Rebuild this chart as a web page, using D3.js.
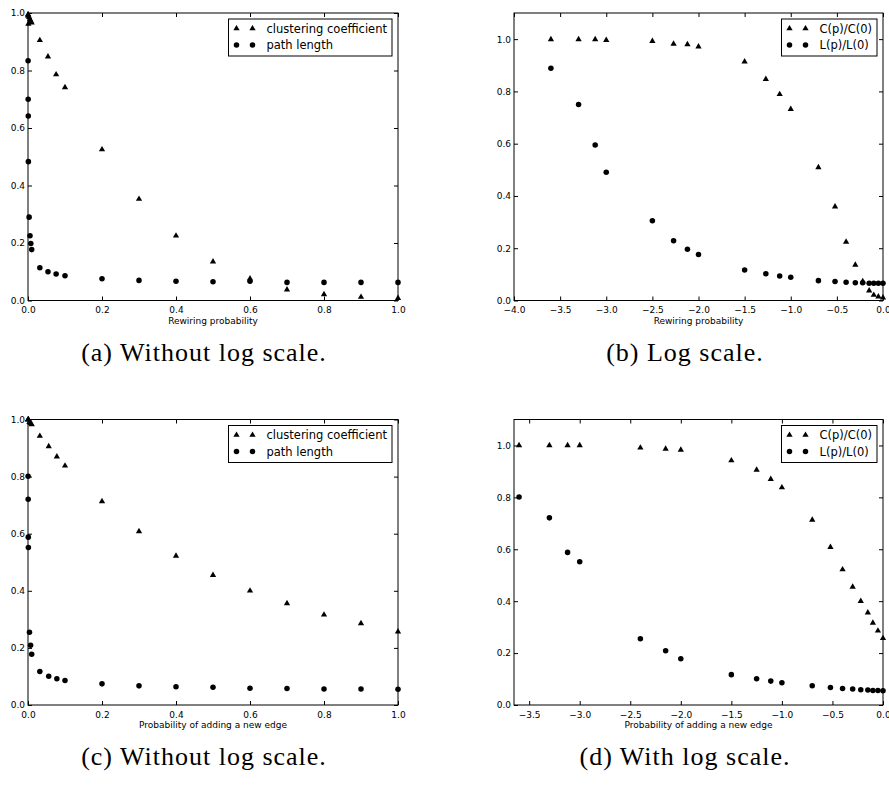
<!DOCTYPE html>
<html>
<head>
<meta charset="utf-8">
<script src="https://cdn.jsdelivr.net/npm/d3@7"></script>
<style>
  html, body { margin: 0; padding: 0; background: #fff; }
  svg { display: block; }
  .tick text { font-family: "DejaVu Sans", sans-serif; font-size: 9px; fill: #000; }
  .tick line { stroke: #000; stroke-width: 1; }
  .axis-label { font-family: "DejaVu Sans", sans-serif; font-size: 9px; fill: #000; }
  .legend text { font-family: "DejaVu Sans", sans-serif; font-size: 11.5px; fill: #000; }
  .caption { font-family: "Liberation Serif", serif; font-size: 26px; fill: #000; letter-spacing: 1px; }
</style>
</head>
<body>
<svg id="fig" width="889" height="790"></svg>
<script>
// Rewiring experiment: probabilities and their log10 values
const pRewire = [0.00025, 0.0005, 0.00075, 0.001, 0.003, 0.0054, 0.0076, 0.01,
  0.032, 0.054, 0.076, 0.1, 0.2, 0.3, 0.4, 0.5, 0.6, 0.7, 0.8, 0.9, 1.0];
const logPRewire = [-3.6, -3.3, -3.12, -3.0, -2.5, -2.27, -2.12, -2.0,
  -1.5, -1.27, -1.12, -1.0, -0.7, -0.52, -0.4, -0.3, -0.22, -0.15, -0.1, -0.05, 0.0];

// Rewiring, linear run
const clusterRewireLin = [0.995, 0.993, 0.99, 0.962, 0.985, 0.978, 0.972, 0.966,
  0.905, 0.848, 0.786, 0.741, 0.525, 0.353, 0.225, 0.135, 0.076, 0.038, 0.021, 0.012, 0.008];
const pathRewireLin = [0.834, 0.700, 0.642, 0.483, 0.290, 0.225, 0.198, 0.177,
  0.114, 0.100, 0.092, 0.086, 0.076, 0.070, 0.067, 0.065, 0.067, 0.063, 0.063, 0.063, 0.063];

// Rewiring, log run
const clusterRewireLog = [0.999, 0.999, 0.999, 0.996, 0.992, 0.982, 0.980, 0.971,
  0.914, 0.847, 0.789, 0.732, 0.509, 0.359, 0.224, 0.136, 0.073, 0.038, 0.021, 0.015, 0.011];
const pathRewireLog = [0.889, 0.750, 0.595, 0.491, 0.305, 0.229, 0.196, 0.176,
  0.117, 0.102, 0.094, 0.089, 0.076, 0.073, 0.070, 0.068, 0.068, 0.066, 0.066, 0.066, 0.066];

// Adding new edges
const pAddEdge = [0.00025, 0.0005, 0.00075, 0.001, 0.004, 0.007, 0.01,
  0.032, 0.056, 0.078, 0.1, 0.2, 0.3, 0.4, 0.5, 0.6, 0.7, 0.8, 0.9, 1.0];
const logPAddEdge = [-3.6, -3.3, -3.12, -3.0, -2.4, -2.15, -2.0,
  -1.5, -1.25, -1.11, -1.0, -0.7, -0.52, -0.4, -0.3, -0.22, -0.15, -0.1, -0.05, 0.0];
const clusterAddEdge = [1.0, 1.0, 1.0, 1.0, 0.991, 0.987, 0.983,
  0.942, 0.906, 0.870, 0.838, 0.713, 0.608, 0.522, 0.455, 0.400, 0.356, 0.316, 0.286, 0.257];
const pathAddEdge = [0.801, 0.721, 0.588, 0.552, 0.255, 0.209, 0.178,
  0.117, 0.101, 0.092, 0.086, 0.074, 0.067, 0.064, 0.062, 0.059, 0.058, 0.056, 0.056, 0.055];

// Tick values
const linXTicks = [0, 0.2, 0.4, 0.6, 0.8, 1.0];
const unitYTicks = [0, 0.2, 0.4, 0.6, 0.8, 1.0];
const logRewireTicks = [-4, -3.5, -3, -2.5, -2, -1.5, -1, -0.5, 0];
const logAddTicks = [-3.5, -3, -2.5, -2, -1.5, -1, -0.5, 0];

// Legend entries and captions
const legendLinear = ["clustering coefficient", "path length"];
const legendLog = ["C(p)/C(0)", "L(p)/L(0)"];
const captions = ["(a) Without log scale.", "(b) Log scale.", "(c) Without log scale.", "(d) With log scale."];
const xLabels = ["Rewiring probability", "Probability of adding a new edge"];

const svg = d3.select("#fig");
const fmt = d3.format(".1f");

const panels = [
  { box: [28, 13, 398, 300.5], xDom: [0, 1], yDom: [0, 1], xTicks: linXTicks,
    xs: pRewire, tri: clusterRewireLin, dot: pathRewireLin, legend: legendLinear,
    xLabel: xLabels[0], caption: captions[0], capX: 204 },
  { box: [514, 13, 883, 300.5], xDom: [-4, 0], yDom: [0, 1.1], xTicks: logRewireTicks,
    xs: logPRewire, tri: clusterRewireLog, dot: pathRewireLog, legend: legendLog,
    xLabel: xLabels[0], caption: captions[1], capX: 685 },
  { box: [28, 419.5, 398, 705], xDom: [0, 1], yDom: [0, 1], xTicks: linXTicks,
    xs: pAddEdge, tri: clusterAddEdge, dot: pathAddEdge, legend: legendLinear,
    xLabel: xLabels[1], caption: captions[2], capX: 204 },
  { box: [514, 419.5, 883, 705], xDom: [-3.65, 0], yDom: [0, 1.1], xTicks: logAddTicks,
    xs: logPAddEdge, tri: clusterAddEdge, dot: pathAddEdge, legend: legendLog,
    xLabel: xLabels[1], caption: captions[3], capX: 685 }
];

const triPath = d3.symbol(d3.symbolTriangle, 17)();
const dotPath = d3.symbol(d3.symbolCircle, 24)();

panels.forEach(p => {
  const [x0, y0, x1, y1] = p.box;
  const x = d3.scaleLinear().domain(p.xDom).range([x0, x1]);
  const y = d3.scaleLinear().domain(p.yDom).range([y1, y0]);
  const g = svg.append("g");

  // inward ticks on all four sides
  const bottom = g.append("g").attr("transform", `translate(0,${y1})`)
    .call(d3.axisBottom(x).tickValues(p.xTicks).tickFormat(fmt).tickSize(-4).tickPadding(6.5));
  const top = g.append("g").attr("transform", `translate(0,${y0})`)
    .call(d3.axisTop(x).tickValues(p.xTicks).tickFormat("").tickSize(-4));
  const left = g.append("g").attr("transform", `translate(${x0},0)`)
    .call(d3.axisLeft(y).tickValues(unitYTicks).tickFormat(fmt).tickSize(-4).tickPadding(3));
  const right = g.append("g").attr("transform", `translate(${x1},0)`)
    .call(d3.axisRight(y).tickValues(unitYTicks).tickFormat("").tickSize(-4));
  [bottom, top, left, right].forEach(a => a.select(".domain").remove());
  g.selectAll(".tick text").attr("font-family", null).attr("font-size", null);

  // frame
  g.append("rect").attr("x", x0).attr("y", y0).attr("width", x1 - x0).attr("height", y1 - y0)
    .attr("fill", "none").attr("stroke", "#000").attr("stroke-width", 1);

  // data
  const tri = p.xs.map((v, i) => [v, p.tri[i]]);
  const dot = p.xs.map((v, i) => [v, p.dot[i]]);
  g.append("g").selectAll("path").data(tri).join("path")
    .attr("d", triPath).attr("fill", "#000")
    .attr("transform", d => `translate(${x(d[0])},${y(d[1])})`);
  g.append("g").selectAll("path").data(dot).join("path")
    .attr("d", dotPath).attr("fill", "#000")
    .attr("transform", d => `translate(${x(d[0])},${y(d[1])})`);

  // axis label
  g.append("text").attr("class", "axis-label").attr("x", (x0 + x1) / 2).attr("y", y1 + 23)
    .attr("text-anchor", "middle").text(p.xLabel);

  // legend (upper right)
  const lg = g.append("g").attr("class", "legend");
  const texts = p.legend.map((t, i) => lg.append("text").attr("y", y0 + 15.5 + i * 16.5)
    .attr("dy", "0.35em").text(t));
  const tw = d3.max(texts, t => t.node().getComputedTextLength());
  const bw = 38 + tw + 5;
  const bx = x1 - 6 - bw;
  texts.forEach(t => t.attr("x", bx + 38));
  lg.insert("rect", "text").attr("x", bx).attr("y", y0 + 6).attr("width", bw).attr("height", 37)
    .attr("fill", "#fff").attr("stroke", "#000").attr("stroke-width", 1);
  [triPath, dotPath].forEach((sym, i) => {
    [bx + 8, bx + 24].forEach(mx => {
      lg.append("path").attr("d", sym).attr("fill", "#000")
        .attr("transform", `translate(${mx},${y0 + 15.5 + i * 16.5})`);
    });
  });

  // caption
  svg.append("text").attr("class", "caption").attr("x", p.capX).attr("y", y1 + 60)
    .attr("text-anchor", "middle").text(p.caption);
});
</script>
</body>
</html>
